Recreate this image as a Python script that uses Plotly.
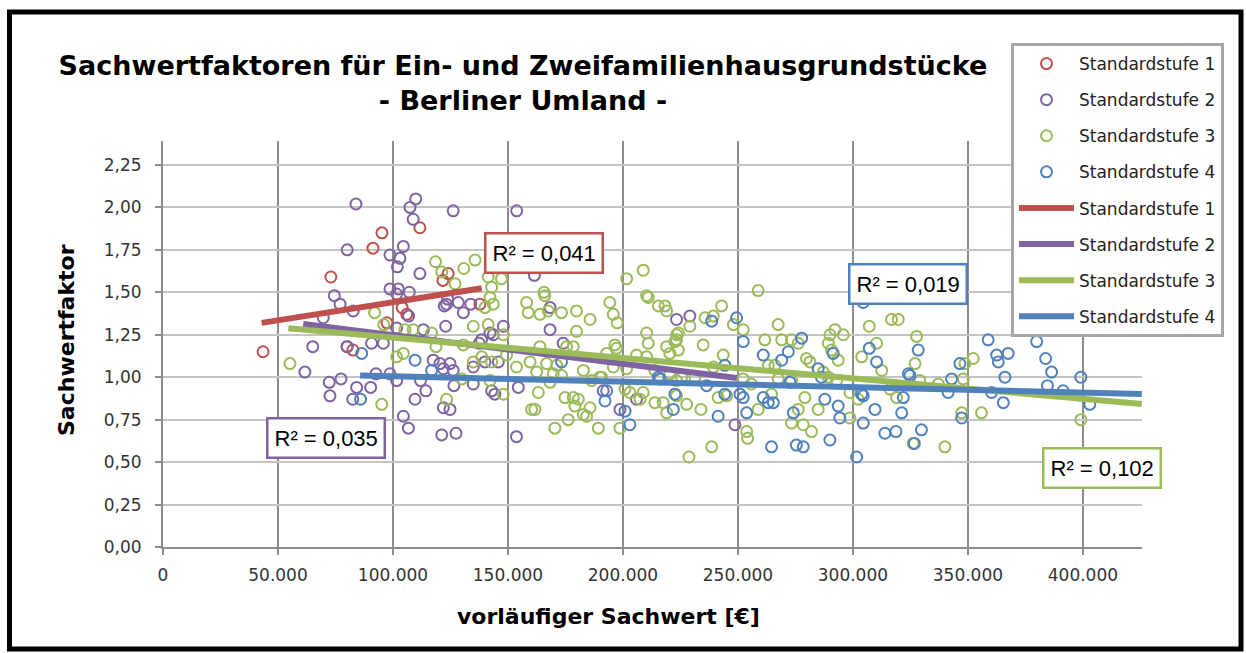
import plotly.graph_objects as go

# ---- data (x in k€, y = Sachwertfaktor) ----
s1_x = [43.5, 73, 80, 82.6, 91.3, 95.2, 97.4, 104, 106, 111.7, 121.7, 124, 137.8]
s1_y = [1.15, 1.59, 1.18, 1.16, 1.76, 1.85, 1.32, 1.41, 1.37, 1.88, 1.57, 1.61, 1.43]

s2_x = [83.9, 109.9, 107.4, 108.8, 126.2, 153.8, 80.1, 98.7, 104.5, 103, 101.9, 111.7, 161.5,
        74.5, 77, 82.7, 69.7, 98.7, 102.3, 101.6, 107.1, 122.3, 123.3, 123.8, 128.4, 130.6,
        133.8, 106.8, 122.9, 101.6, 113.2, 148, 168.3, 168.3, 65.1, 80.1, 90.7, 95.8, 138.5,
        143.6, 142.2, 137.5, 174, 61.7, 72.3, 77.4, 72.6, 82.5, 84.2, 90.3, 92.6, 98.7, 101.6,
        109.6, 114.3, 104.5, 106.7, 121.2, 127.4, 117.5, 120.4, 121.9, 124.8, 126.2, 126.5,
        134.9, 121.9, 124.8, 112, 140, 145.8, 134.9, 142.9, 144.3, 154.5, 153.7, 198.7, 205.9,
        191.4, 223.3, 229.1, 248.7]
s2_y = [2.02, 2.05, 2.00, 1.93, 1.98, 1.98, 1.75, 1.72, 1.77, 1.70, 1.65, 1.61, 1.60,
        1.48, 1.43, 1.39, 1.35, 1.52, 1.52, 1.49, 1.50, 1.42, 1.43, 1.46, 1.44, 1.38,
        1.43, 1.36, 1.30, 1.29, 1.28, 1.30, 1.41, 1.28, 1.18, 1.18, 1.20, 1.20, 1.22,
        1.25, 1.26, 1.20, 1.20, 1.03, 0.97, 0.99, 0.89, 0.87, 0.94, 0.94, 1.02, 1.02, 0.98,
        0.87, 0.92, 0.77, 0.70, 0.66, 0.67, 1.10, 1.08, 1.05, 1.08, 1.04, 0.95,
        0.96, 0.82, 0.81, 0.98, 1.09, 1.09, 1.06, 0.92, 0.90, 0.94, 0.65, 0.81, 0.87,
        0.92, 1.34, 1.36, 0.72]

s3_x = [55.2, 92, 96, 95.1, 105.2, 108.8, 118.5, 121.2, 130.8, 127, 135.7, 141.4, 142.9, 147.2,
        142.2, 143.6, 140, 158.1, 158.8, 134.9, 141.4, 148, 116.8, 118.7, 130.6, 101.6, 104.5,
        134.9, 138.6, 142.9, 149.4, 153.7, 159.6, 129.9, 142.2, 148, 123.3, 160.3,
        208.8, 201.6, 165.7, 166, 210.3, 211, 194.3, 215.4, 218.3, 219, 163.9, 167.5, 173.3,
        179.8, 185.7, 195.8, 197.5, 179.8, 210.3, 223.3, 211, 163.9, 175.5, 178.4, 196.5,
        197.2, 219, 222.6, 220.4, 192.9, 205.9, 210.3, 166.8, 171.2, 182.8, 190, 195.8, 201.6,
        162.5, 169.7, 173.3, 186.4, 190.7, 163.2, 168.3, 174.8, 178.4, 180.6, 185.7, 179.1,
        182.8, 184.2, 176.2, 170.4, 189.3, 198.7, 161.7, 200.9, 203, 208.8, 207.4, 213.9,
        217.5, 219, 223.3, 213.9, 220.4, 223.3,
        258.8, 242.9, 239.3, 235.7, 229.1, 224.1, 223.3, 224.1, 248, 252.3, 234.9, 243.6,
        267.5, 261.7, 269, 273.3, 276.2, 279.8, 281.3, 263.2, 266.1, 239.3, 225.5, 231.3,
        252.3, 255.8, 267.5, 273.3, 241.4, 245.1, 264.6, 227.7, 233.9, 258.8, 279.1, 284.9,
        276.2, 273.3, 278.4, 282, 253.8, 254.2, 238.6, 228.7, 287.1,
        290, 292.2, 295.8, 289.3, 290.7, 293.6, 307.1, 316.8, 319.7, 310.3, 303.8, 312.5,
        327.7, 327, 289.3, 292.9, 298.7, 302.3, 298.7, 316.1, 319, 329.1, 326.2, 340, 337.1,
        348, 348.7, 352.3, 347.3, 355.9, 399.1]
s3_y = [1.08, 1.38, 1.31, 0.84, 1.28, 1.28, 1.68, 1.62, 1.64, 1.55, 1.69, 1.59, 1.53, 1.58,
        1.47, 1.43, 1.41, 1.44, 1.38, 1.30, 1.31, 1.25, 1.26, 1.18, 1.19, 1.12, 1.14,
        1.09, 1.12, 1.09, 1.13, 1.06, 1.09, 0.99, 0.98, 0.90, 0.87, 0.81,
        1.63, 1.58, 1.50, 1.48, 1.48, 1.47, 1.44, 1.42, 1.42, 1.39, 1.37, 1.39, 1.38,
        1.39, 1.34, 1.37, 1.32, 1.27, 1.26, 1.25, 1.20, 1.18, 1.18, 1.18, 1.19,
        1.17, 1.18, 1.21, 1.14, 1.14, 1.13, 1.12, 1.08, 1.07, 1.04, 1.00, 1.06, 1.05,
        1.03, 1.02, 1.01, 0.98, 1.00, 0.91, 0.97, 0.88, 0.88, 0.87, 0.82, 0.83,
        0.78, 0.77, 0.75, 0.70, 0.70, 0.70, 0.81, 0.93, 0.91, 0.91, 0.87, 0.85,
        0.85, 0.79, 0.89, 1.04, 1.02, 0.98,
        1.51, 1.42, 1.36, 1.35, 1.30, 1.26, 1.22, 1.16, 1.31, 1.28, 1.19, 1.13,
        1.31, 1.22, 1.22, 1.22, 1.20, 1.11, 1.09, 1.07, 1.07, 1.06, 1.00, 1.00,
        0.99, 0.96, 0.99, 0.98, 0.88, 0.89, 0.90, 0.84, 0.81, 0.81, 0.88, 0.81,
        0.81, 0.73, 0.72, 0.68, 0.68, 0.64, 0.59, 0.53, 1.03,
        1.25, 1.28, 1.25, 1.20, 1.16, 1.10, 1.30, 1.34, 1.34, 1.20, 1.12, 1.04,
        1.24, 1.08, 1.00, 0.98, 0.91, 0.87, 0.76, 0.93, 0.88, 0.98, 0.61, 0.59, 0.96,
        0.99, 1.08, 1.11, 0.79, 0.79, 0.75]

s4_x = [86.4, 85.9, 109.6, 116.8, 173.3, 215.4, 192.9, 192.2, 200.9, 203, 222.6, 221.9, 238.6,
        249.4, 252.3, 261, 269, 271.9, 277.7, 291.4, 284.9, 244.3, 236.4, 244.3, 252.3, 253.8,
        241.4, 216.1, 264.6, 275.4, 278.4, 290, 261, 263.2, 265.4, 274.1, 293.6, 294.3, 287.8,
        301.6, 250.9, 286.3, 272.6, 304.5, 307.1, 310.3, 328.4, 324.1, 324.8, 303.8, 304.5,
        309.6, 304.5, 313.9, 318.7, 321.9, 321.2, 329.8, 326.7, 346.5, 342.9, 341.4, 347.3,
        358.8, 362.5, 367.5, 363.2, 366.1, 360.3, 365.4, 379.9, 383.8, 386.4, 384.6, 391.4,
        399.1, 403]
s4_y = [1.14, 0.87, 1.10, 1.04, 1.09, 1.00, 0.92, 0.86, 0.80, 0.72, 0.90, 0.81, 1.33,
        1.35, 1.21, 1.13, 1.10, 1.15, 1.23, 1.14, 1.05, 1.07, 0.95, 0.90, 0.88, 0.79,
        0.77, 0.99, 0.59, 0.60, 0.59, 0.63, 0.88, 0.85, 0.85, 0.79, 0.83, 0.76, 0.87,
        0.53, 0.90, 1.00, 0.97, 1.44, 1.17, 1.09, 1.16, 1.02, 1.01, 0.90, 0.89,
        0.81, 0.73, 0.67, 0.68, 0.88, 0.79, 0.69, 0.61, 1.08, 0.99, 0.91, 0.76,
        1.22, 1.13, 1.14, 1.09, 1.00, 0.91, 0.85, 1.21, 1.11, 1.03, 0.95, 0.92,
        1.00, 0.84]

# linear trend lines (end points, k€ / factor)
t1_x, t1_y = [42.9, 138.6], [1.320, 1.524]
t2_x, t2_y = [61.0, 249.6], [1.313, 0.995]
t3_x, t3_y = [54.5, 425.6], [1.288, 0.842]
t4_x, t4_y = [85.7, 425.6], [1.010, 0.901]

r2_labels = ["R² = 0,041", "R² = 0,035", "R² = 0,102", "R² = 0,019"]
names = ["Standardstufe 1", "Standardstufe 2", "Standardstufe 3", "Standardstufe 4"]
colors = ["#C0504D", "#8064A2", "#9BBB59", "#4F81BD"]

x_ticks = [0, 50000, 100000, 150000, 200000, 250000, 300000, 350000, 400000]
y_ticks = [0, 0.25, 0.5, 0.75, 1.0, 1.25, 1.5, 1.75, 2.0, 2.25]

FONT = "DejaVu Sans"

fig = go.Figure()
scat = [(s1_x, s1_y), (s2_x, s2_y), (s3_x, s3_y), (s4_x, s4_y)]
for i, (xs, ys) in enumerate(scat):
    fig.add_trace(go.Scatter(
        x=[v * 1000 for v in xs], y=ys, mode="markers", name=names[i],
        legendgroup=f"m{i}",
        marker=dict(symbol="circle-open", size=11, color=colors[i], line=dict(width=2, color=colors[i])),
        cliponaxis=True))
trends = [(t1_x, t1_y), (t2_x, t2_y), (t3_x, t3_y), (t4_x, t4_y)]
for i, (xs, ys) in enumerate(trends):
    fig.add_trace(go.Scatter(
        x=[v * 1000 for v in xs], y=ys, mode="lines", name=names[i],
        legendgroup=f"l{i}",
        line=dict(color=colors[i], width=6)))

L, R, T, B = 163, 104, 141, 106
W, H = 1246, 653
pw = W - L - R
ph = H - T - B

def px2x(px):
    return (px - L) / pw

def px2y(py):
    return (H - B - py) / ph

# R² labels
label_pos = [(544, 253, 0), (326, 438, 1), (1102, 468, 2), (908, 284, 3)]
for cx, cy, k in label_pos:
    fig.add_annotation(x=px2x(cx), y=px2y(cy), xref="paper", yref="paper",
                       text=r2_labels[k], showarrow=False,
                       font=dict(family="Liberation Sans", size=22, color="#000000"),
                       bgcolor="white", bordercolor=colors[k], borderwidth=2.5,
                       borderpad=6, xanchor="center", yanchor="middle")

# axis titles
fig.add_annotation(x=px2x(608), y=px2y(616), xref="paper", yref="paper",
                   text="<b>vorläufiger Sachwert [€]</b>", showarrow=False,
                   font=dict(family=FONT, size=22, color="#000"), xanchor="center", yanchor="middle")
fig.add_annotation(x=px2x(66), y=px2y(340), xref="paper", yref="paper",
                   text="<b>Sachwertfaktor</b>", showarrow=False, textangle=-90,
                   font=dict(family=FONT, size=22, color="#000"), xanchor="center", yanchor="middle")

# outer frame
fig.add_shape(type="rect", xref="paper", yref="paper",
              x0=px2x(9.5), x1=px2x(1241), y0=px2y(649), y1=px2y(12),
              line=dict(color="black", width=5), fillcolor="rgba(0,0,0,0)", layer="above")

fig.update_layout(
    width=W, height=H,
    margin=dict(l=L, r=R, t=T, b=B, autoexpand=False),
    paper_bgcolor="white", plot_bgcolor="white",
    separators=",.",
    title=dict(text="<b>Sachwertfaktoren für Ein- und Zweifamilienhausgrundstücke<br>- Berliner Umland -</b>",
               x=523 / W, xanchor="center", y=1 - 75 / H, yanchor="middle",
               font=dict(family=FONT, size=27, color="#000")),
    font=dict(family=FONT, color="#222"),
    showlegend=True,
    legend=dict(x=px2x(1011), y=px2y(43), xanchor="left", yanchor="top",
                bgcolor="white", bordercolor="#A6A6A6", borderwidth=3,
                font=dict(family=FONT, size=17, color="#222"),
                traceorder="grouped", tracegroupgap=11, itemwidth=55),
    xaxis=dict(range=[0, 425700], tickvals=x_ticks, tickformat=",d",
               showgrid=True, gridcolor="#8C8C8C", gridwidth=1.5,
               showline=True, linecolor="#8C8C8C", linewidth=2,
               ticks="outside", ticklen=6, tickcolor="#8C8C8C", tickwidth=2,
               ticklabelstandoff=6,
               tickfont=dict(family=FONT, size=17, color="#333"), zeroline=False),
    yaxis=dict(range=[0, 2.391], tickvals=y_ticks, tickformat=".2f",
               showgrid=True, gridcolor="#C4C4C4", gridwidth=2,
               showline=True, linecolor="#8C8C8C", linewidth=2,
               ticks="outside", ticklen=6, tickcolor="#8C8C8C", tickwidth=2,
               ticklabelstandoff=10,
               tickfont=dict(family=FONT, size=17, color="#333"), zeroline=False),
)

fig.write_html("out.html", config={"displayModeBar": False},
               post_script="document.body.style.margin='0px';")
